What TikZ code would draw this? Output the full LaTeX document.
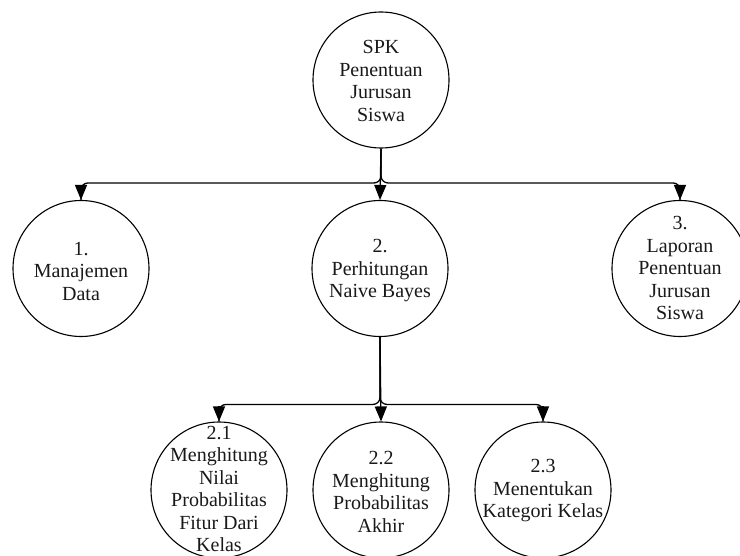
\documentclass[tikz,border=0pt]{standalone}
\usepackage{fontspec}
\setmainfont{Liberation Serif}
\usetikzlibrary{arrows.meta}
\begin{document}
\begin{tikzpicture}[x=1pt,y=-1pt,
 proc/.style={circle,draw=black,line width=1.1pt,minimum size=136pt,inner sep=0pt},
 lbl/.style={align=center,font=\fontsize{20}{22.5}\selectfont,text=black!90,inner sep=0pt},
 conn/.style={draw=black,line width=1.3pt,rounded corners=7pt},
 tipseg/.style={draw=black,line width=1.3pt,-{Triangle[length=15pt,width=12pt]}}]
\useasboundingbox (0,0) rectangle (740,556);
\clip (0,0) rectangle (740,556);
% nodes
\node[proc] (top) at (381,80) {};
\node[lbl] (ttop) at (381,81) {SPK\\Penentuan\\Jurusan\\Siswa};
\node[proc] (m1) at (81,268.5) {};
\node[lbl] (tm1) at (81,271) {1.\\Manajemen\\Data};
\node[proc] (m2) at (380,268.5) {};
\node[lbl] (tm2) at (380,271) {2.\\Perhitungan\\Naive Bayes};
\node[proc] (m3) at (680,268.5) {};
\node[lbl] (tm3) at (680,268) {3.\\Laporan\\Penentuan\\Jurusan\\Siswa};
\node[proc] (b1) at (219,490) {};
\node[lbl] (tb1) at (219,489) {2.1\\Menghitung\\Nilai\\Probabilitas\\Fitur Dari\\Kelas};
\node[proc] (b2) at (381,490) {};
\node[lbl] (tb2) at (381,492) {2.2\\Menghitung\\Probabilitas\\Akhir};
\node[proc] (b3) at (543,490) {};
\node[lbl] (tb3) at (543,491) {2.3\\Menentukan\\Kategori Kelas};
% connectors
\foreach \p/\c in {top/m1,top/m3,m2/b1,m2/b3}{
  \draw[conn] (\p.south) |- ([yshift=17pt]\c.north) -- (\c.north);
  \draw[tipseg] ([yshift=15pt]\c.north) -- (\c.north);
}
\draw[tipseg] (top.south) -- (m2.north);
\draw[tipseg] (m2.south) -- (b2.north);
\end{tikzpicture}
\end{document}
